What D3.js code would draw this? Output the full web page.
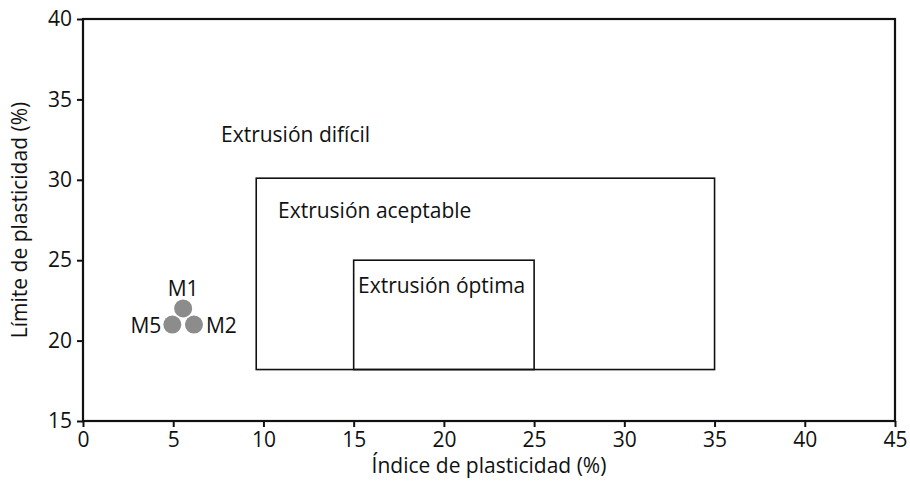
<!DOCTYPE html>
<html>
<head>
<meta charset="utf-8">
<script src="https://cdn.jsdelivr.net/npm/d3@7"></script>
<style>
  body { margin: 0; background: #fff; }
  text { font-family: "Open Sans", "Noto Sans", sans-serif; fill: #111; }
</style>
</head>
<body>
<div id="chart"></div>
<script>
// data
const xTicks = [0, 5, 10, 15, 20, 25, 30, 35, 40, 45]
const yTicks = [15, 20, 25, 30, 35, 40]
const zoneNames = ["Extrusión aceptable", "Extrusión óptima"]
const zoneX0 = [9.6, 15]
const zoneX1 = [35, 25]
const zoneY0 = [18.2, 18.2]
const zoneY1 = [30.1, 25]
const sampleNames = ["M1", "M5", "M2"]
const sampleIP = [5.55, 4.95, 6.15]
const sampleLP = [22.0, 21.0, 21.0]

const width = 910
const height = 490
const margin = {top: 19, right: 15, bottom: 69, left: 83}
const fs = 21

const svg = d3.select("#chart").append("svg")
    .attr("width", width)
    .attr("height", height)

const xScale = d3.scaleLinear().domain([0, 45]).range([margin.left, width - margin.right])
const yScale = d3.scaleLinear().domain([15, 40]).range([height - margin.bottom, margin.top])

// zones
const zones = zoneNames.map((n, i) => ({name: n, x0: zoneX0[i], x1: zoneX1[i], y0: zoneY0[i], y1: zoneY1[i]}))

svg.selectAll("rect.zone")
    .data(zones)
    .join("rect")
    .attr("class", "zone")
    .attr("x", d => xScale(d.x0))
    .attr("y", d => yScale(d.y1))
    .attr("width", d => xScale(d.x1) - xScale(d.x0))
    .attr("height", d => yScale(d.y0) - yScale(d.y1))
    .attr("fill", "none")
    .attr("stroke", "#111")
    .attr("stroke-width", 1.6)

// zone labels
svg.append("text").attr("x", 221).attr("y", 141.5).attr("font-size", fs).text("Extrusión difícil")
svg.append("text").attr("x", 278).attr("y", 217.5).attr("font-size", fs).text(zones[0].name)
svg.append("text").attr("x", 358).attr("y", 293).attr("font-size", fs).text(zones[1].name)

// frame
svg.append("rect")
    .attr("x", xScale(0))
    .attr("y", yScale(40))
    .attr("width", xScale(45) - xScale(0))
    .attr("height", yScale(15) - yScale(40))
    .attr("fill", "none")
    .attr("stroke", "#111")
    .attr("stroke-width", 2.2)

// axes
const xAxis = svg.append("g")
    .attr("transform", `translate(0,${yScale(15)})`)
    .call(d3.axisBottom(xScale).tickValues(xTicks).tickSize(6).tickSizeOuter(0))
const yAxis = svg.append("g")
    .attr("transform", `translate(${xScale(0)},0)`)
    .call(d3.axisLeft(yScale).tickValues(yTicks).tickSize(6).tickSizeOuter(0))

for (const ax of [xAxis, yAxis]) {
    ax.select(".domain").remove()
    ax.selectAll(".tick line").attr("stroke", "#111").attr("stroke-width", 2)
    ax.selectAll(".tick text").attr("font-size", fs).attr("fill", "#111")
        .style("font-family", "'Open Sans', sans-serif")
}
xAxis.selectAll(".tick text").attr("y", 11)
yAxis.selectAll(".tick text").attr("x", -11)

// axis titles
svg.append("text")
    .attr("x", (xScale(0) + xScale(45)) / 2)
    .attr("y", 473)
    .attr("text-anchor", "middle")
    .attr("font-size", fs)
    .text("Índice de plasticidad (%)")
svg.append("text")
    .attr("transform", `translate(27,${(yScale(15) + yScale(40)) / 2}) rotate(-90)`)
    .attr("text-anchor", "middle")
    .attr("font-size", fs)
    .text("Límite de plasticidad (%)")

// samples
const samples = sampleNames.map((n, i) => ({name: n, ip: sampleIP[i], lp: sampleLP[i]}))
svg.selectAll("circle.sample")
    .data(samples)
    .join("circle")
    .attr("class", "sample")
    .attr("cx", d => xScale(d.ip))
    .attr("cy", d => yScale(d.lp))
    .attr("r", 9)
    .attr("fill", "#8c8c8c")

svg.selectAll("text.slabel")
    .data(samples)
    .join("text")
    .attr("class", "slabel")
    .attr("font-size", fs)
    .attr("x", d => d.name === "M1" ? xScale(d.ip) : d.name === "M5" ? xScale(d.ip) - 11 : xScale(d.ip) + 12)
    .attr("y", d => d.name === "M1" ? yScale(d.lp) - 12 : yScale(d.lp) + 8)
    .attr("text-anchor", d => d.name === "M1" ? "middle" : d.name === "M5" ? "end" : "start")
    .text(d => d.name)
</script>
</body>
</html>
